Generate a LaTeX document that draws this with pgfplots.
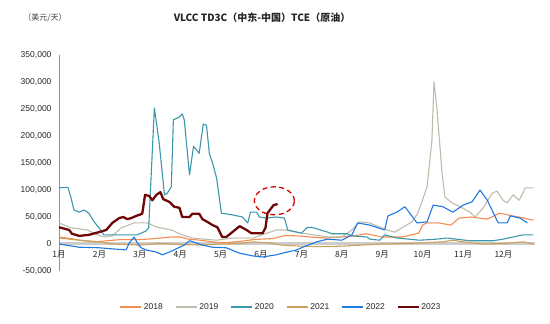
\documentclass[border=0pt]{standalone}
\usepackage{pgfplots}
\pgfplotsset{compat=1.18}
\usepackage{fontspec}
\setmainfont{Liberation Sans}
\newfontfamily\cjk{Noto Sans CJK SC}
\definecolor{c18}{RGB}{242,140,80}
\definecolor{c19}{RGB}{192,188,172}
\definecolor{c20}{RGB}{60,150,172}
\definecolor{c21}{RGB}{205,160,90}
\definecolor{c22}{RGB}{30,120,225}
\definecolor{c23}{RGB}{110,8,8}
\definecolor{axgray}{RGB}{160,140,140}
\begin{document}
\begin{tikzpicture}
\begin{axis}[
  at={(59pt,53pt)}, anchor=south west,
  scale only axis, width=476pt, height=216pt,
  xmin=0, xmax=11.78, ymin=-50000, ymax=350000,
  ytick={-50000,0,50000,100000,150000,200000,250000,300000,350000},
  yticklabels={{-50,000},{0},{50,000},{100,000},{150,000},{200,000},{250,000},{300,000},{350,000}},
  xtick={0,1,2,3,4,5,6,7,8,9,10,11},
  xticklabels={1月,2月,3月,4月,5月,6月,7月,8月,9月,10月,11月,12月},
  axis x line*=middle, axis y line*=left,
  hide obscured x ticks=false, hide obscured y ticks=false,
  x axis line style={draw=gray!40, line width=3pt, -},
  y axis line style={draw=axgray, line width=0.8pt, -},
  tick style={draw=none},
  scaled y ticks=false,
  yticklabel style={font=\fontsize{8.5}{10}\selectfont, xshift=-4pt, text=black!85},
  xticklabel style={font=\cjk\fontsize{8.5}{10}\selectfont, yshift=-3pt, text=black!85},
  legend style={at={(0.466,-0.167)}, anchor=center, draw=none, legend columns=6,
    font=\fontsize{8.5}{10}\selectfont, text=black!85,
    /tikz/every even column/.append style={column sep=10pt}},
  legend image code/.code={\draw[#1, line width=1.6pt] (0pt,0pt) -- (21pt,0pt);},
  every axis plot/.append style={no marks, line join=round},
]
% 2018
\addplot[c18, line width=1.1pt] coordinates {
(0,13000)(0.3,10000)(0.6,6000)(0.9,4000)(1.2,6000)(1.5,8000)(1.9,8000)(2.2,9000)(2.5,11000)(2.8,13000)(3.0,13000)(3.2,9000)(3.5,7000)(3.9,3000)(4.2,3000)(4.5,5000)(4.8,8000)(5.0,9000)(5.3,10000)(5.6,16000)(5.9,15000)(6.2,13000)(6.6,11000)(7.0,13000)(7.3,15000)(7.6,19000)(8.0,13000)(8.5,13000)(8.9,20000)(9.0,35000)(9.1,39000)(9.4,39000)(9.7,35000)(9.9,48000)(10.2,50000)(10.6,46000)(10.9,57000)(11.1,54000)(11.5,48000)(11.74,44000)
};
% 2019
\addplot[c19, line width=1.1pt] coordinates {
(0,39000)(0.3,30000)(0.7,26000)(0.95,17000)(1.13,13000)(1.32,15000)(1.54,30000)(1.86,39000)(2.18,39000)(2.43,31000)(2.78,26000)(3.05,17000)(3.3,11000)(3.6,9000)(3.9,7000)(4.3,11000)(4.8,11000)(5.14,20000)(5.38,26000)(5.58,26000)(6.03,20000)(6.65,13000)(7.0,13000)(7.25,26000)(7.44,41000)(7.69,39000)(8.11,26000)(8.31,22000)(8.51,31000)(8.73,41000)(8.88,57000)(9.11,106000)(9.23,193000)(9.28,300000)(9.35,254000)(9.48,131000)(9.55,87000)(9.73,76000)(9.93,69000)(10.17,59000)(10.3,50000)(10.5,67000)(10.72,94000)(10.84,98000)(10.99,81000)(11.09,76000)(11.24,91000)(11.39,81000)(11.54,104000)(11.74,104000)
};
% 2020
\addplot[c20, line width=1.1pt] coordinates {
(0,104000)(0.22,105000)(0.30,85000)(0.37,63000)(0.50,59000)(0.62,63000)(0.74,57000)(0.87,41000)(0.99,30000)(1.11,17000)(1.5,17000)(1.94,17000)(2.15,24000)(2.22,30000)(2.36,252000)(2.48,187000)(2.61,91000)(2.68,94000)(2.78,106000)(2.83,230000)(2.98,235000)(3.05,241000)(3.10,230000)(3.23,128000)(3.33,181000)(3.47,168000)(3.57,222000)(3.65,220000)(3.72,168000)(3.80,150000)(3.90,122000)(4.02,57000)(4.29,54000)(4.54,50000)(4.67,39000)(4.74,59000)(4.89,59000)(4.96,50000)(5.14,48000)(5.38,50000)(5.58,48000)(5.66,26000)(6.0,20000)(6.13,30000)(6.25,31000)(6.65,22000)(6.75,19000)(7.12,19000)(7.25,15000)(7.62,13000)(7.69,9000)(7.94,7000)(8.06,17000)(8.36,11000)(8.93,7000)(9.35,9000)(9.60,11000)(10.17,6000)(10.74,6000)(10.99,9000)(11.24,13000)(11.49,17000)(11.74,17000)
};
% 2021
\addplot[c21, line width=1.1pt] coordinates {
(0,11000)(0.5,7000)(1.0,4000)(1.3,0)(2.0,-2000)(2.5,1000)(3.0,-1000)(3.5,-2000)(4.0,0)(4.5,1000)(4.8,4000)(5.2,2000)(5.5,-2000)(6.0,-4000)(6.5,-5000)(7.0,-4000)(7.5,-2000)(8.0,0)(8.5,1000)(9.0,2000)(9.5,4000)(9.75,7000)(10.0,4000)(10.5,0)(11.0,1000)(11.5,4000)(11.74,0)
};
% 2022
\addplot[c22, line width=1.1pt] coordinates {
(0,0)(0.5,-6000)(0.99,-7000)(1.32,-9000)(1.66,-11000)(1.74,2000)(1.86,13000)(1.94,2000)(2.03,-7000)(2.16,-11000)(2.41,-15000)(2.56,-20000)(2.73,-15000)(2.90,-9000)(3.10,-2000)(3.23,6000)(3.40,2000)(3.55,-2000)(3.80,-6000)(4.14,-7000)(4.47,-17000)(4.79,-22000)(5.04,-24000)(5.38,-20000)(5.53,-17000)(5.88,-11000)(6.03,-6000)(6.38,4000)(6.65,9000)(7.0,7000)(7.25,17000)(7.39,39000)(7.69,35000)(8.06,26000)(8.14,52000)(8.36,59000)(8.56,69000)(8.86,39000)(9.11,41000)(9.26,72000)(9.50,69000)(9.75,59000)(10.0,72000)(10.22,78000)(10.42,100000)(10.60,81000)(10.87,39000)(11.09,39000)(11.17,52000)(11.41,48000)(11.59,39000)
};
% 2023
\addplot[c23, line width=2.3pt] coordinates {
(0,31000)(0.25,26000)(0.32,19000)(0.5,15000)(0.74,17000)(0.99,22000)(1.17,26000)(1.32,39000)(1.49,48000)(1.59,50000)(1.69,46000)(1.79,48000)(1.91,52000)(2.06,56000)(2.13,91000)(2.23,89000)(2.31,81000)(2.41,91000)(2.51,96000)(2.58,83000)(2.73,78000)(2.85,69000)(2.98,67000)(3.05,50000)(3.23,50000)(3.30,56000)(3.47,56000)(3.55,46000)(3.67,41000)(3.80,35000)(3.92,31000)(4.04,13000)(4.14,13000)(4.29,22000)(4.47,33000)(4.64,26000)(4.76,20000)(5.04,20000)(5.11,30000)(5.16,57000)(5.31,72000)(5.41,74000)
};
\legend{2018,2019,2020,2021,2022,2023}
\draw[red!85!black, line width=1.3pt, dash pattern=on 5pt off 3.5pt] (axis cs:5.33,80000) ellipse [x radius=20pt, y radius=14pt];
\end{axis}
\node[text=black!85] at (262pt,306pt) {\cjk\bfseries\fontsize{10}{12}\selectfont VLCC TD3C（中东-中国）TCE（原油）};
\node[text=black!75] at (45pt,306pt) {\cjk\fontsize{8}{10}\selectfont （美元/天）};
\pgfresetboundingbox
\useasboundingbox (0,0) rectangle (550pt,324pt);
\end{tikzpicture}
\end{document}
